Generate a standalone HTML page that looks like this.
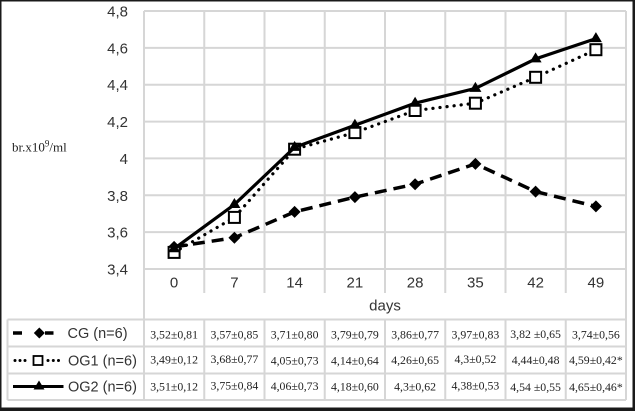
<!DOCTYPE html>
<html><head><meta charset="utf-8"><style>
html,body{margin:0;padding:0;background:#fff;}
svg{display:block;}
</style></head><body>
<svg width="635" height="411" viewBox="0 0 635 411" xmlns="http://www.w3.org/2000/svg">
<rect x="0" y="0" width="635" height="411" fill="#fff"/>
<!-- frame -->
<rect x="0" y="0" width="635" height="1.5" fill="#1a1a1a"/>
<rect x="0" y="0" width="1.5" height="411" fill="#1a1a1a"/>
<rect x="632.5" y="0" width="2.5" height="411" fill="#1a1a1a"/>
<rect x="0" y="407.5" width="635" height="3.5" fill="#1a1a1a"/>

<g stroke="#d6d6d6" stroke-width="2" fill="none">
<!-- horizontal gridlines -->
<line x1="144" y1="11" x2="626" y2="11"/>
<line x1="144" y1="47.9" x2="626" y2="47.9"/>
<line x1="144" y1="84.7" x2="626" y2="84.7"/>
<line x1="144" y1="121.6" x2="626" y2="121.6"/>
<line x1="144" y1="158.4" x2="626" y2="158.4"/>
<line x1="144" y1="195.3" x2="626" y2="195.3"/>
<line x1="144" y1="232.1" x2="626" y2="232.1"/>
<line x1="144" y1="269" x2="626" y2="269"/>
<!-- vertical gridlines -->
<line x1="144" y1="11" x2="144" y2="400"/>
<line x1="204.25" y1="11" x2="204.25" y2="293"/>
<line x1="264.5" y1="11" x2="264.5" y2="293"/>
<line x1="324.75" y1="11" x2="324.75" y2="293"/>
<line x1="385" y1="11" x2="385" y2="293"/>
<line x1="445.25" y1="11" x2="445.25" y2="293"/>
<line x1="505.5" y1="11" x2="505.5" y2="293"/>
<line x1="565.75" y1="11" x2="565.75" y2="293"/>
<line x1="626" y1="11" x2="626" y2="400"/>
<!-- table -->
<line x1="7.5" y1="319.5" x2="626" y2="319.5"/>
<line x1="7.5" y1="346.5" x2="626" y2="346.5"/>
<line x1="7.5" y1="373.5" x2="626" y2="373.5"/>
<line x1="7.5" y1="400" x2="626" y2="400"/>
<line x1="7.5" y1="319.5" x2="7.5" y2="400"/>
<line x1="204.25" y1="319.5" x2="204.25" y2="400"/>
<line x1="264.5" y1="319.5" x2="264.5" y2="400"/>
<line x1="324.75" y1="319.5" x2="324.75" y2="400"/>
<line x1="385" y1="319.5" x2="385" y2="400"/>
<line x1="445.25" y1="319.5" x2="445.25" y2="400"/>
<line x1="505.5" y1="319.5" x2="505.5" y2="400"/>
<line x1="565.75" y1="319.5" x2="565.75" y2="400"/>
</g>

<!-- Y tick labels -->
<g font-family="'Liberation Sans', sans-serif" font-size="15" fill="#333" text-anchor="end">
<text x="128" y="16.5">4,8</text>
<text x="128" y="53.4">4,6</text>
<text x="128" y="90.2">4,4</text>
<text x="128" y="127.1">4,2</text>
<text x="128" y="163.9">4</text>
<text x="128" y="200.8">3,8</text>
<text x="128" y="237.6">3,6</text>
<text x="128" y="274.5">3,4</text>
</g>
<!-- X tick labels -->
<g font-family="'Liberation Sans', sans-serif" font-size="15" fill="#333" text-anchor="middle">
<text x="174.1" y="287.5">0</text>
<text x="234.4" y="287.5">7</text>
<text x="294.6" y="287.5">14</text>
<text x="354.9" y="287.5">21</text>
<text x="415.1" y="287.5">28</text>
<text x="475.4" y="287.5">35</text>
<text x="535.6" y="287.5">42</text>
<text x="595.9" y="287.5">49</text>
<text x="385" y="310.5">days</text>
</g>
<text x="12" y="151.5" font-family="'Liberation Serif', serif" font-size="13" fill="#222">br.x10<tspan dy="-5" font-size="9">9</tspan><tspan dy="5">/ml</tspan></text>

<!-- CG dashed -->
<polyline fill="none" stroke="#000" stroke-width="3.5" stroke-dasharray="12 7"
 points="174.1,246.9 234.4,237.7 294.6,211.9 354.9,197.1 415.1,184.2 475.4,163.9 535.6,191.6 595.9,206.4"/>
<g fill="#000">
<polygon points="174.1,240.9 180.1,246.9 174.1,252.9 168.1,246.9"/>
<polygon points="234.4,231.7 240.4,237.7 234.4,243.7 228.4,237.7"/>
<polygon points="294.6,205.9 300.6,211.9 294.6,217.9 288.6,211.9"/>
<polygon points="354.9,191.1 360.9,197.1 354.9,203.1 348.9,197.1"/>
<polygon points="415.1,178.2 421.1,184.2 415.1,190.2 409.1,184.2"/>
<polygon points="475.4,157.9 481.4,163.9 475.4,169.9 469.4,163.9"/>
<polygon points="535.6,185.6 541.6,191.6 535.6,197.6 529.6,191.6"/>
<polygon points="595.9,200.4 601.9,206.4 595.9,212.4 589.9,206.4"/>
</g>

<!-- OG1 dotted -->
<polyline fill="none" stroke="#000" stroke-width="3.2" stroke-linecap="round" stroke-dasharray="0.1 7"
 points="174.1,252.4 234.4,217.4 294.6,149.2 354.9,132.6 415.1,110.5 475.4,103.2 535.6,77.3 595.9,49.7"/>
<g fill="#fff" stroke="#000" stroke-width="2">
<rect x="168.6" y="246.9" width="11" height="11"/>
<rect x="228.9" y="211.9" width="11" height="11"/>
<rect x="289.1" y="143.7" width="11" height="11"/>
<rect x="349.4" y="127.1" width="11" height="11"/>
<rect x="409.6" y="105" width="11" height="11"/>
<rect x="469.9" y="97.7" width="11" height="11"/>
<rect x="530.1" y="71.8" width="11" height="11"/>
<rect x="590.4" y="44.2" width="11" height="11"/>
</g>

<!-- OG2 solid -->
<polyline fill="none" stroke="#000" stroke-width="3.2"
 points="174.1,248.7 234.4,204.5 294.6,147.4 354.9,125.3 415.1,103.2 475.4,88.4 535.6,58.9 595.9,38.6"/>
<g fill="#000">
<polygon points="174.1,242.2 180.1,252.2 168.1,252.2"/>
<polygon points="234.4,198 240.4,208 228.4,208"/>
<polygon points="294.6,140.9 300.6,150.9 288.6,150.9"/>
<polygon points="354.9,118.8 360.9,128.8 348.9,128.8"/>
<polygon points="415.1,96.7 421.1,106.7 409.1,106.7"/>
<polygon points="475.4,81.9 481.4,91.9 469.4,91.9"/>
<polygon points="535.6,52.4 541.6,62.4 529.6,62.4"/>
<polygon points="595.9,32.1 601.9,42.1 589.9,42.1"/>
</g>

<!-- legend markers -->
<line x1="13" y1="333" x2="22" y2="333" stroke="#000" stroke-width="3.5"/>
<line x1="45" y1="333" x2="53.5" y2="333" stroke="#000" stroke-width="3.5"/>
<polygon points="39.3,327.5 44.8,333 39.3,338.5 33.8,333" fill="#000"/>
<g fill="#000">
<circle cx="15" cy="360.5" r="1.5"/><circle cx="20" cy="360.5" r="1.5"/><circle cx="25" cy="360.5" r="1.5"/>
<circle cx="48" cy="360.5" r="1.5"/><circle cx="53.3" cy="360.5" r="1.5"/><circle cx="58.5" cy="360.5" r="1.5"/>
</g>
<rect x="33.5" y="356" width="9" height="9" fill="#fff" stroke="#000" stroke-width="1.8"/>
<line x1="13" y1="386.5" x2="63.5" y2="386.5" stroke="#000" stroke-width="3"/>
<polygon points="39,380.5 44.5,389.5 33.5,389.5" fill="#000"/>

<g font-family="'Liberation Sans', sans-serif" font-size="14.5" fill="#333">
<text x="67.5" y="338">CG (n=6)</text>
<text x="68" y="365.5">OG1 (n=6)</text>
<text x="68" y="391.5">OG2 (n=6)</text>
</g>

<!-- table values -->
<g font-family="'Liberation Serif', serif" font-size="11.8" fill="#222" text-anchor="middle">
<text x="174.1" y="338.5">3,52±0,81</text>
<text x="234.4" y="338.5">3,57±0,85</text>
<text x="294.6" y="338.5">3,71±0,80</text>
<text x="354.9" y="338.5">3,79±0,79</text>
<text x="415.1" y="338.5">3,86±0,77</text>
<text x="475.4" y="338.5">3,97±0,83</text>
<text x="535.6" y="338">3,82 ±0,65</text>
<text x="595.9" y="338.5">3,74±0,56</text>

<text x="174.1" y="363.5">3,49±0,12</text>
<text x="234.4" y="363">3,68±0,77</text>
<text x="294.6" y="364.5">4,05±0,73</text>
<text x="354.9" y="364.5">4,14±0,64</text>
<text x="415.1" y="364">4,26±0,65</text>
<text x="475.4" y="363">4,3±0,52</text>
<text x="535.6" y="364">4,44±0,48</text>
<text x="595.9" y="364">4,59±0,42*</text>

<text x="174.1" y="390.5">3,51±0,12</text>
<text x="234.4" y="389.5">3,75±0,84</text>
<text x="294.6" y="390">4,06±0,73</text>
<text x="354.9" y="390.5">4,18±0,60</text>
<text x="415.1" y="390.5">4,3±0,62</text>
<text x="475.4" y="389.5">4,38±0,53</text>
<text x="535.6" y="391">4,54 ±0,55</text>
<text x="595.9" y="391">4,65±0,46*</text>
</g>
</svg>
</body></html>
